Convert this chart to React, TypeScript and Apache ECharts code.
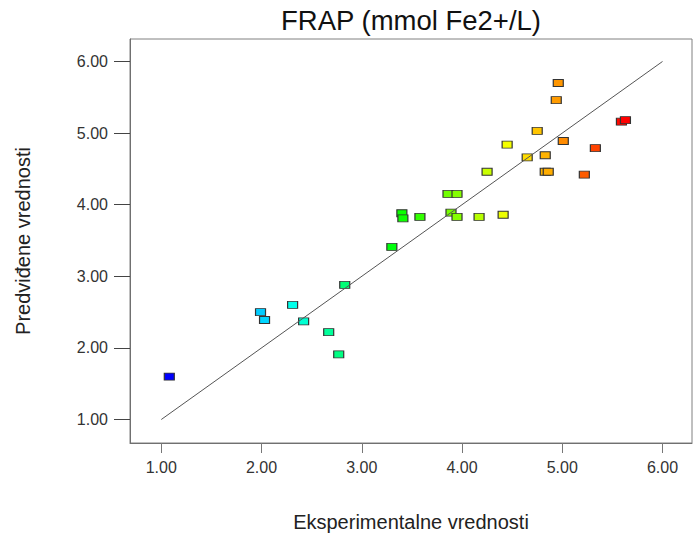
import React, { useEffect, useRef } from "react";
import * as echarts from "echarts";

const experimental = [
  1.08, 1.99, 2.03, 2.31, 2.42, 2.67, 2.77, 2.83, 3.3, 3.4, 3.41, 3.58,
  3.86, 3.95, 3.89, 3.95, 4.17, 4.41, 4.25, 4.45, 4.65, 4.75, 4.83, 4.83,
  4.86, 4.94, 4.96, 5.01, 5.33, 5.22, 5.59, 5.63,
];
const predicted = [
  1.6, 2.5, 2.39, 2.6, 2.37, 2.22, 1.91, 2.88, 3.41, 3.88, 3.81, 3.83,
  4.15, 4.15, 3.89, 3.83, 3.83, 3.86, 4.46, 4.84, 4.66, 5.03, 4.69, 4.46,
  4.46, 5.46, 5.7, 4.89, 4.79, 4.42, 5.16, 5.18,
];
const tickValues = [1, 2, 3, 4, 5, 6];
const refLine = [
  [1, 1],
  [6, 6],
];
const titleText = "FRAP (mmol Fe2+/L)";
const xName = "Eksperimentalne vrednosti";
const yName = "Predviđene vrednosti";

const FONT = "'Liberation Sans', Arial, sans-serif";

export default function App() {
  const ref = useRef<HTMLDivElement>(null);
  useEffect(() => {
    if (!ref.current) return;
    const chart = echarts.init(ref.current, undefined, { renderer: "svg" });
    const points = experimental.map((x, i) => [x, predicted[i]]);
    const fmt = (v: number) => v.toFixed(2);
    chart.setOption({
      animation: false,
      backgroundColor: "#ffffff",
      textStyle: { fontFamily: FONT },
      graphic: [
        {
          type: "text",
          x: 411,
          y: 20,
          style: {
            text: titleText,
            fontSize: 27.5,
            fontFamily: FONT,
            fill: "#111",
            textAlign: "center",
            textVerticalAlign: "middle",
          },
        },
      ],
      grid: {
        left: 130,
        right: 3,
        top: 39,
        bottom: 90,
        show: true,
        borderColor: "#808080",
        borderWidth: 1,
      },
      visualMap: {
        show: false,
        type: "continuous",
        seriesIndex: 0,
        dimension: 0,
        min: 1.08,
        max: 5.63,
        inRange: {
          color: ["#0000ff", "#00ffff", "#00ff00", "#ffff00", "#ff0000"],
        },
      },
      xAxis: {
        type: "value",
        min: 0.688,
        max: 6.294,
        splitLine: { show: false },
        axisLine: { show: true, lineStyle: { color: "#707070", width: 1 } },
        axisTick: {
          show: true,
          length: 10,
          customValues: tickValues,
          lineStyle: { color: "#777" },
        },
        axisLabel: {
          customValues: tickValues,
          formatter: fmt,
          fontSize: 16,
          color: "#333",
          margin: 16,
          fontFamily: FONT,
        },
        name: xName,
        nameLocation: "middle",
        nameGap: 69,
        nameTextStyle: { fontSize: 20, color: "#222", fontFamily: FONT },
      },
      yAxis: {
        type: "value",
        min: 0.672,
        max: 6.314,
        splitLine: { show: false },
        axisLine: { show: true, lineStyle: { color: "#707070", width: 1 } },
        axisTick: {
          show: true,
          length: 16,
          customValues: tickValues,
          lineStyle: { color: "#444" },
        },
        axisLabel: {
          customValues: tickValues,
          formatter: fmt,
          fontSize: 16,
          color: "#333",
          margin: 22,
          fontFamily: FONT,
        },
        name: yName,
        nameLocation: "middle",
        nameGap: 97,
        nameTextStyle: { fontSize: 20, color: "#222", fontFamily: FONT },
      },
      series: [
        {
          type: "scatter",
          data: points,
          symbol: "rect",
          symbolSize: [10, 7],
          itemStyle: { borderColor: "#333", borderWidth: 1, opacity: 1 },
          z: 2,
        },
        {
          type: "line",
          data: refLine,
          symbol: "none",
          lineStyle: { color: "#555", width: 1 },
          z: 3,
          silent: true,
        },
      ],
    });
    return () => chart.dispose();
  }, []);
  return (
    <div
      ref={ref}
      style={{ position: "fixed", left: 0, top: 0, width: 695, height: 537 }}
    />
  );
}
